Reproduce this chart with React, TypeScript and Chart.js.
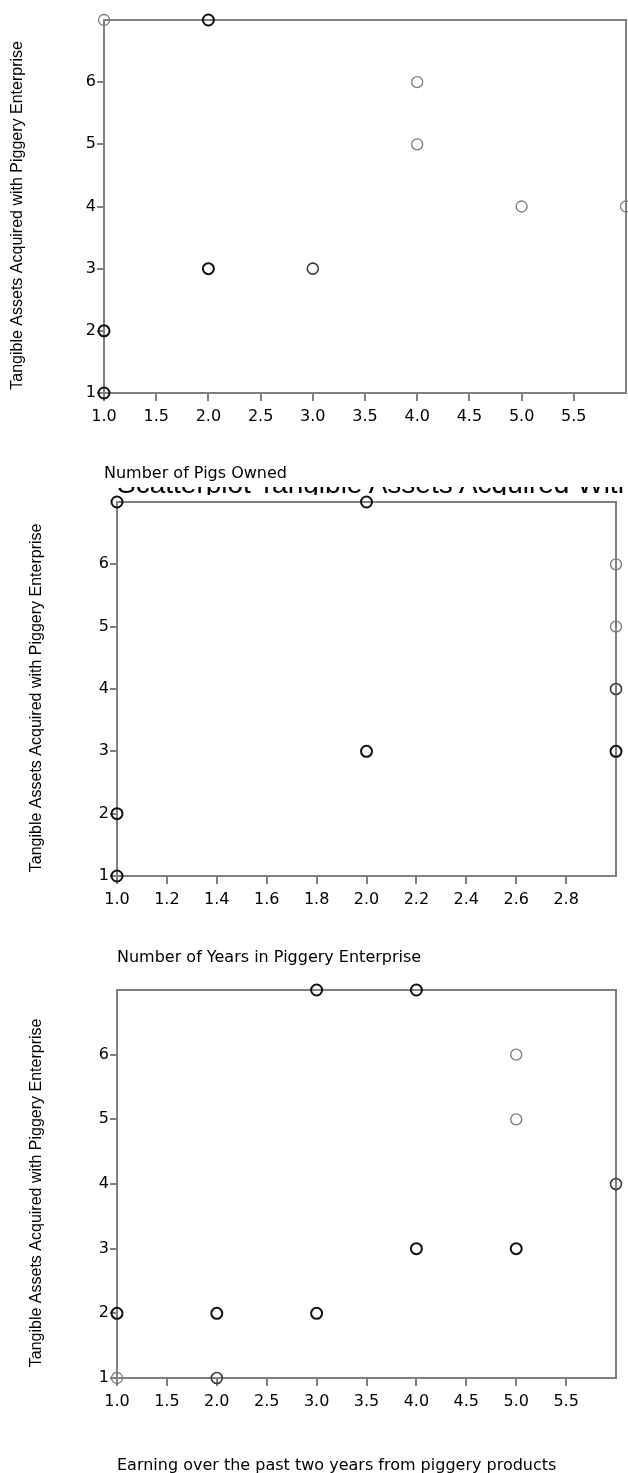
import React, { useEffect, useRef } from "react";
import { Chart, registerables } from "chart.js";

Chart.register(...registerables);

// ---------- data ----------
const yAxisTitle = "Tangible Assets Acquired with Piggery Enterprise";
const yTickValues = [1, 2, 3, 4, 5, 6];

// Chart 1: Number of Pigs Owned
const pigsTitle = "Number of Pigs Owned";
const pigsX = [1, 2, 4, 4, 5, 6, 2, 3, 1, 1];
const pigsY = [7, 7, 6, 5, 4, 4, 3, 3, 2, 1];
const pigsCount = [1, 3, 1, 1, 1, 1, 3, 2, 3, 3];
const pigsTicks = [1, 1.5, 2, 2.5, 3, 3.5, 4, 4.5, 5, 5.5];

// Chart 2: Number of Years in Piggery Enterprise
const yearsTitle = "Number of Years in Piggery Enterprise";
const yearsHeading = "Scatterplot Tangible Assets Acquired With Number of Years in Piggery Enterprise";
const yearsX = [1, 2, 3, 3, 3, 3, 2, 1, 1];
const yearsY = [7, 7, 6, 5, 4, 3, 3, 2, 1];
const yearsCount = [3, 3, 1, 1, 2, 3, 3, 3, 3];
const yearsTicks = [1, 1.2, 1.4, 1.6, 1.8, 2, 2.2, 2.4, 2.6, 2.8];

// Chart 3: Earning over the past two years
const earnTitle = "Earning over the past two years from piggery products";
const earnX = [3, 4, 5, 5, 6, 4, 5, 1, 2, 3, 1, 2];
const earnY = [7, 7, 6, 5, 4, 3, 3, 2, 2, 2, 1, 1];
const earnCount = [3, 3, 1, 1, 2, 3, 3, 3, 3, 3, 1, 2];
const earnTicks = [1, 1.5, 2, 2.5, 3, 3.5, 4, 4.5, 5, 5.5];

// ---------- styling helpers ----------
const AXIS_GREY = "#808080";
const strokeColor = (n: number) => (n >= 3 ? "#111111" : n === 2 ? "#3a3a3a" : "#7a7a7a");
const strokeWidth = (n: number) => (n >= 3 ? 2 : n === 2 ? 1.6 : 1.3);

const framePlugin = {
  id: "frame",
  beforeDatasetsDraw(chart: any) {
    const { ctx, chartArea } = chart;
    ctx.save();
    ctx.strokeStyle = AXIS_GREY;
    ctx.lineWidth = 2;
    ctx.strokeRect(chartArea.left, chartArea.top, chartArea.right - chartArea.left, chartArea.bottom - chartArea.top);
    ctx.restore();
  },
};

type Props = {
  canvasTop: number;
  canvasHeight: number;
  left: number;
  right: number;
  top: number;
  bottom: number;
  xs: number[];
  ys: number[];
  counts: number[];
  xMax: number;
  xTicks: number[];
  xTitle: string;
  yTitlePad: number;
};

function Scatter(p: Props) {
  const ref = useRef<HTMLCanvasElement | null>(null);
  useEffect(() => {
    if (!ref.current) return;
    const W = 628;
    const chart = new Chart(ref.current, {
      type: "scatter",
      data: {
        datasets: [
          {
            data: p.xs.map((x, i) => ({ x, y: p.ys[i] })),
            pointRadius: 5.5,
            pointHoverRadius: 5.5,
            pointBackgroundColor: "rgba(0,0,0,0)",
            pointBorderColor: p.counts.map(strokeColor),
            pointBorderWidth: p.counts.map(strokeWidth),
            clip: false as any,
            showLine: false,
          },
        ],
      },
      options: {
        responsive: false,
        animation: false,
        events: [],
        layout: {
          autoPadding: false,
          padding: { left: 0, top: p.top - p.canvasTop, right: W - p.right, bottom: 0 },
        },
        plugins: { legend: { display: false }, tooltip: { enabled: false } },
        scales: {
          x: {
            type: "linear",
            position: "bottom",
            min: 1,
            max: p.xMax,
            afterFit: (s: any) => {
              s.height = p.canvasHeight - (p.bottom - p.canvasTop);
              s.paddingLeft = 0;
              s.paddingRight = 0;
            },
            afterBuildTicks: (s: any) => {
              s.ticks = p.xTicks.map((value) => ({ value }));
            },
            ticks: {
              callback: (v: any) => Number(v).toFixed(1),
              font: { family: "DejaVu Sans", size: 16 },
              color: "#000",
              padding: 6,
              maxRotation: 0,
              autoSkip: false,
            },
            grid: { drawOnChartArea: false, drawTicks: true, tickLength: 8, color: AXIS_GREY, lineWidth: 2 },
            border: { display: true, color: AXIS_GREY, width: 2 },
            title: {
              display: true,
              text: p.xTitle,
              align: "start",
              font: { family: "DejaVu Sans", size: 16 },
              color: "#000",
              padding: 0,
            },
          },
          y: {
            type: "linear",
            position: "left",
            min: 1,
            max: 7,
            afterFit: (s: any) => {
              s.width = p.left;
              s.paddingTop = 0;
              s.paddingBottom = 0;
            },
            afterBuildTicks: (s: any) => {
              s.ticks = yTickValues.map((value) => ({ value }));
            },
            ticks: {
              callback: (v: any) => String(v),
              font: { family: "DejaVu Sans", size: 16 },
              color: "#000",
              padding: 1,
              autoSkip: false,
            },
            grid: { drawOnChartArea: false, drawTicks: true, tickLength: 7, color: AXIS_GREY, lineWidth: 2 },
            border: { display: true, color: AXIS_GREY, width: 2 },
            title: {
              display: true,
              text: yAxisTitle + "    ",
              font: { family: "Liberation Sans", size: 16 },
              color: "#000",
              padding: p.yTitlePad,
            },
          },
        },
      },
      plugins: [framePlugin],
    } as any);
    return () => chart.destroy();
  }, []);
  return (
    <canvas
      ref={ref}
      width={628}
      height={p.canvasHeight}
      style={{ position: "absolute", left: 0, top: p.canvasTop, width: 628, height: p.canvasHeight }}
    />
  );
}

export default function App() {
  return (
    <div
      style={{
        position: "absolute",
        left: 0,
        top: 0,
        width: 628,
        height: 1473,
        overflow: "hidden",
        background: "#fff",
      }}
    >
      <Scatter
        canvasTop={0}
        canvasHeight={483}
        left={104}
        right={626}
        top={20}
        bottom={393}
        xs={pigsX}
        ys={pigsY}
        counts={pigsCount}
        xMax={6}
        xTicks={pigsTicks}
        xTitle={pigsTitle}
        yTitlePad={8}
      />
      <Scatter
        canvasTop={484}
        canvasHeight={483}
        left={117}
        right={616}
        top={502}
        bottom={876}
        xs={yearsX}
        ys={yearsY}
        counts={yearsCount}
        xMax={3}
        xTicks={yearsTicks}
        xTitle={yearsTitle}
        yTitlePad={27}
      />
      <div
        style={{
          position: "absolute",
          left: 0,
          top: 487,
          width: 628,
          height: 8,
          overflow: "hidden",
          clipPath: "inset(0px)",
        }}
      >
        <div
          style={{
            marginTop: -17,
            marginLeft: 117,
            whiteSpace: "nowrap",
            fontFamily: "Liberation Sans",
            fontSize: 28,
            lineHeight: "28px",
            color: "#000",
          }}
        >
          {yearsHeading}
        </div>
      </div>
      <Scatter
        canvasTop={968}
        canvasHeight={507}
        left={117}
        right={616}
        top={990}
        bottom={1378}
        xs={earnX}
        ys={earnY}
        counts={earnCount}
        xMax={6}
        xTicks={earnTicks}
        xTitle={earnTitle}
        yTitlePad={27}
      />
    </div>
  );
}
